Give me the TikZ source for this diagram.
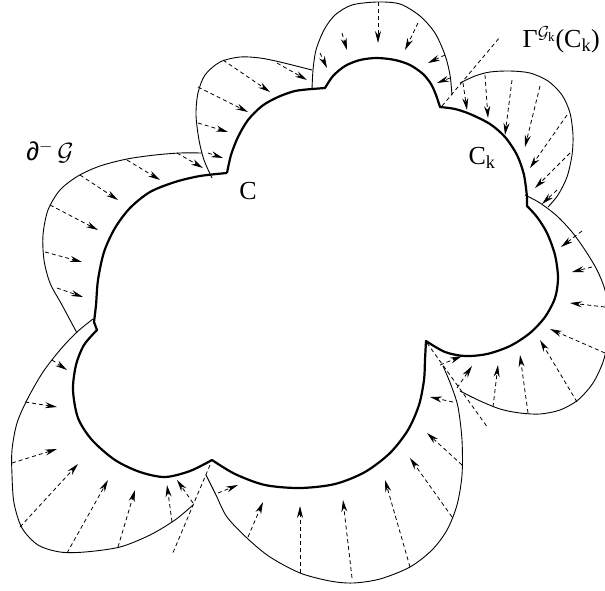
\documentclass[tikz,border=0pt]{standalone}
\usepackage{fontspec}
\setmainfont{Liberation Serif}
\newfontfamily\simbolo{Liberation Sans}
\usetikzlibrary{arrows.meta}

\begin{document}
\begin{tikzpicture}[x=1pt, y=-1pt, >={Stealth[length=12pt,width=6pt]},
    contorno/.style={line width=2.2pt, line join=round},
    lobulo/.style={line width=0.9pt},
    flujo/.style={->, line width=0.8pt, dash pattern=on 4pt off 3pt},
    corte/.style={line width=0.8pt, dash pattern=on 4pt off 3pt},
    etiq/.style={font=\fontsize{26}{30}\selectfont, inner sep=0pt},
]
    \clip (0,0) rectangle (605,590);

    % --- curva C (trazo grueso) ---
    \draw[contorno]
        plot[smooth] coordinates {(227,173) (200,176) (175,182) (150,192) (130,208)
            (115,228) (104,252) (98,280) (96,305) (94,322)}
        -- plot[smooth] coordinates {(97,330) (84,345) (76,365) (73,390) (78,418)
            (92,440) (115,460) (140,472) (165,477) (190,471) (212,460)}
        -- plot[smooth] coordinates {(212,460) (235,474) (265,485) (300,488) (335,484)
            (365,472) (390,453) (408,430) (419,405) (424,380) (425,360) (426,341)}
        -- plot[smooth] coordinates {(426,341) (445,352) (465,356) (487,354) (510,346)
            (530,333) (545,317) (555,298) (558,278) (555,255) (547,233) (537,217) (527,206)}
        -- plot[smooth] coordinates {(527,197) (524,175) (517,155) (505,137) (490,124)
            (470,114) (455,109) (440,107)}
        -- plot[smooth] coordinates {(440,107) (436,95) (431,84) (423,74) (410,65)
            (395,60) (377,58) (360,60) (345,66) (333,76) (325,88)}
        -- plot[smooth] coordinates {(312,89) (295,91) (278,97) (262,106) (248,120)
            (238,137) (231,155) (227,173)};

    % --- lobulos exteriores ---
    \draw[lobulo] plot[smooth] coordinates {(212,178) (204,160) (199,140) (196,115)
        (198,93) (205,75) (220,62) (240,57) (260,58) (280,62) (312,70)};
    \draw[lobulo] plot[smooth] coordinates {(312,90) (313,70) (316,50) (324,30)
        (335,15) (352,5) (377,2) (400,4) (420,16) (435,33) (445,55) (450,75) (452,95)};
    \draw[lobulo] plot[smooth] coordinates {(460,83) (475,76) (490,72) (510,71)
        (530,73) (548,81) (562,95) (570,113) (573,135) (572,155) (567,177) (558,195) (548,207)};
    \draw[lobulo] plot[smooth] coordinates {(525,195) (540,203) (557,216) (572,232)
        (585,250) (597,270) (605,290) (609,315) (608,340) (603,362) (593,383) (578,400)
        (560,410) (540,414) (520,413) (500,409) (478,400) (460,391)};
    \draw[lobulo] plot[smooth] coordinates {(206,475) (216,495) (227,517) (248,539)
        (270,557) (300,573) (330,581) (353,583) (380,579) (410,567) (432,550) (447,530)
        (457,505) (462,475) (462,440) (458,407) (451,385) (443,366)};
    \draw[lobulo] plot[smooth] coordinates {(93,319) (77,332) (60,350) (43,372)
        (28,398) (17,423) (12,450) (12,475) (14,503) (22,528) (38,545) (60,552)
        (85,552) (120,547) (150,535) (175,520) (193,505)};
    \draw[lobulo] plot[smooth] coordinates {(202,153) (180,153) (155,155) (127,159)
        (100,166) (78,176) (60,190) (48,210) (43,235) (44,260) (50,283) (62,305) (77,333)};

    % --- rectas de corte en las cuspides ---
    \coordinate (c6) at (442,106);
    \coordinate (c4) at (427,343);
    \coordinate (c3) at (210,465);
    \draw[corte] (c6) -- (500,37);
    \draw[corte] (c4) -- (488,428);
    \draw[corte] (c3) -- (172,555);

    % --- flechas del flujo hacia C ---
    \foreach \xa/\ya/\xb/\yb in {
        223/60/270/92, 198/87/248/112, 198/123/228/132, 208/153/223/158, 277/63/307/80,
        177/153/203/168, 127/160/160/180, 80/175/118/200, 50/205/98/230, 45/252/82/262,
        57/288/83/297,
        52/360/67/370, 25/402/57/407, 12/463/57/449, 20/527/78/464, 67/553/108/480,
        118/547/135/490, 172/522/167/485, 193/503/177/480,
        218/493/238/485, 248/537/263/502, 300/573/300/506, 352/578/343/500,
        410/567/385/480, 452/517/410/458, 462/465/427/433, 453/402/430/397,
        440/365/462/356,
        457/388/472/366, 493/407/498/365, 528/413/520/355, 577/402/540/340,
        605/353/550/329, 605/307/570/303, 592/267/572/272, 582/231/561/247,
        463/83/467/110, 485/75/488/118, 512/80/505/135, 540/86/525/147,
        567/115/530/168, 570/153/535/188, 557/190/542/204,
        320/53/327/68, 342/33/347/50, 378/2/378/43, 418/23/405/50, 445/55/428/63,
        450/78/437/83}
        \draw[flujo] (\xa,\ya) -- (\xb,\yb);

    % --- etiquetas ---
    \node[etiq] (borde) at (50,152) {{\simbolo ∂}$^{-}$\,$\mathcal{G}$};
    \node[etiq] (C)     at (248,191) {C};
    \node[etiq] (Ck)    at (482,158) {C$_{\mathrm{k}}$};
    \node[etiq, anchor=east] (gam) at (600,40)
        {Γ$^{\mathcal{G}_{\mathrm{k}}}$(C$_{\mathrm{k}}$)};

\end{tikzpicture}
\end{document}
